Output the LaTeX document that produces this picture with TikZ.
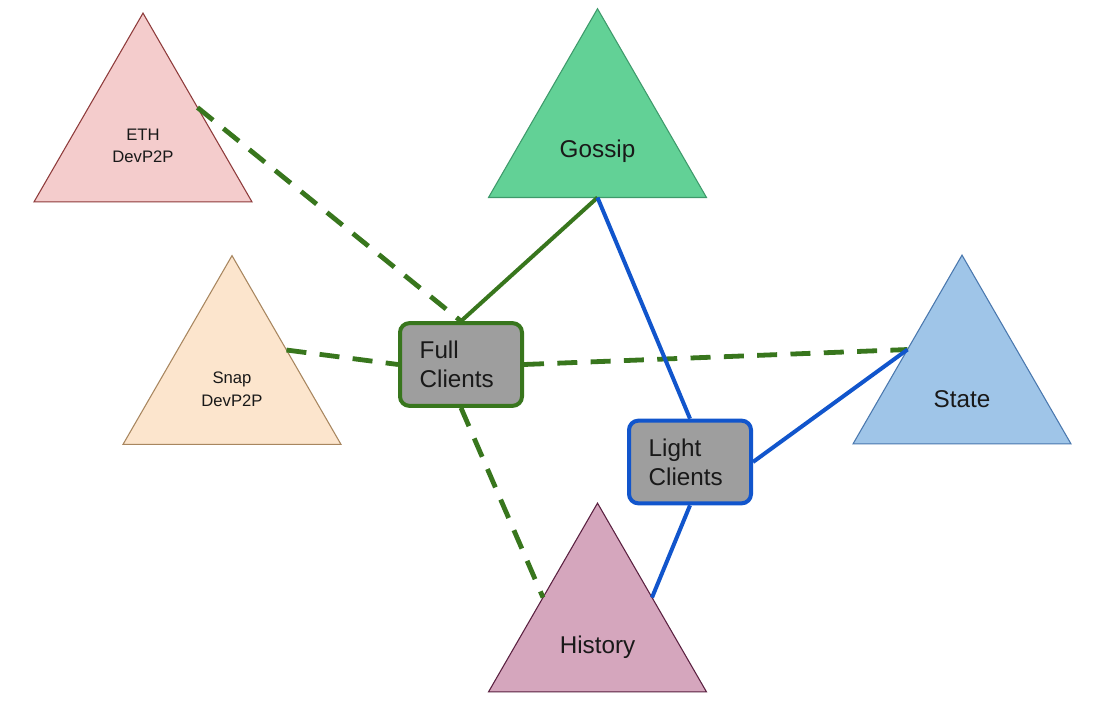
\documentclass[tikz,border=0pt]{standalone}
\usepackage{fontspec}
\setmainfont{Liberation Sans}
\usetikzlibrary{shapes.geometric,calc}
\definecolor{ethfill}{HTML}{F4CCCC}
\definecolor{ethdraw}{HTML}{8E3B3B}
\definecolor{gosfill}{HTML}{62D196}
\definecolor{gosdraw}{HTML}{3E9A6B}
\definecolor{snapfill}{HTML}{FCE5CD}
\definecolor{snapdraw}{HTML}{A8865F}
\definecolor{statefill}{HTML}{9FC5E8}
\definecolor{statedraw}{HTML}{4A78AE}
\definecolor{histfill}{HTML}{D5A6BD}
\definecolor{histdraw}{HTML}{5A2040}
\definecolor{dgreen}{HTML}{38761D}
\definecolor{dblue}{HTML}{1155CC}
\definecolor{boxgray}{HTML}{9E9E9E}
\begin{document}
\begin{tikzpicture}[x=0.75pt,y=-0.75pt,
  tri/.style={regular polygon, regular polygon sides=3, minimum size=188.8pt,
    inner sep=0pt, outer sep=0pt, line width=0.8pt},
  smalllbl/.style={align=center, inner sep=0pt, text=black!90,
    font=\fontsize{12.5}{16.5}\selectfont},
  biglbl/.style={align=center, inner sep=0pt, text=black!90,
    font=\fontsize{18.2}{21}\selectfont},
  client/.style={rectangle, rounded corners=7pt, fill=boxgray, line width=3pt,
    minimum width=91.5pt, minimum height=62pt, text width=62pt, align=left,
    inner xsep=14.75pt, text=black!90, font=\fontsize{18.2}{22}\selectfont},
  dline/.style={draw=dgreen, line width=3.6pt, dash pattern=on 15pt off 10pt},
  gline/.style={draw=dgreen, line width=3pt},
  bline/.style={draw=dblue, line width=3pt}
]
\useasboundingbox (0,0) rectangle (1112,705);
\fill[white] (0,0) rectangle (1112,705);

% triangles
\node[tri, fill=ethfill, draw=ethdraw] (eth) at (143,139) {};
\node[tri, fill=gosfill, draw=gosdraw] (gossip) at (597.5,134.6) {};
\node[tri, fill=snapfill, draw=snapdraw] (snap) at (232,381.5) {};
\node[tri, fill=statefill, draw=statedraw] (state) at (962,381) {};
\node[tri, fill=histfill, draw=histdraw] (history) at (597.5,629) {};

\node[smalllbl] (eth-t) at ($(eth.center)+(0,7)$) {ETH\\DevP2P};
\node[smalllbl, font=\fontsize{12.5}{17.5}\selectfont] (snap-t) at ($(snap.center)+(0,8)$) {Snap\\DevP2P};
\node[biglbl] (gossip-t) at ($(gossip.center)+(0,17)$) {Gossip};
\node[biglbl] (state-t) at ($(state.center)+(0,18)$) {State};
\node[biglbl] (history-t) at ($(history.center)+(0,18)$) {History};

% edge points
\coordinate (ethR) at ($(eth.corner 1)!0.5!(eth.corner 3)$);
\coordinate (snapR) at ($(snap.corner 1)!0.5!(snap.corner 3)$);
\coordinate (stateL) at ($(state.corner 1)!0.5!(state.corner 2)$);
\coordinate (histL) at ($(history.corner 1)!0.5!(history.corner 2)$);
\coordinate (histR) at ($(history.corner 1)!0.5!(history.corner 3)$);
\coordinate (gosB) at ($(gossip.corner 2)!0.5!(gossip.corner 3)$);

% client boxes
\node[client, draw=dgreen] (full) at (461,364.5) {Full\\Clients};
\node[client, draw=dblue] (light) at (690,462) {Light\\Clients};

% connectors
\draw[dline] (ethR) -- (full.north);
\draw[dline] (snapR) -- (full.west);
\draw[dline] (full.east) -- (stateL);
\draw[dline] (full.south) -- (histL);
\draw[gline] (gosB) -- (full.north);
\draw[bline] (gosB) -- (light.north);
\draw[bline] (light.east) -- (stateL);
\draw[bline] (light.south) -- (histR);
\end{tikzpicture}
\end{document}
